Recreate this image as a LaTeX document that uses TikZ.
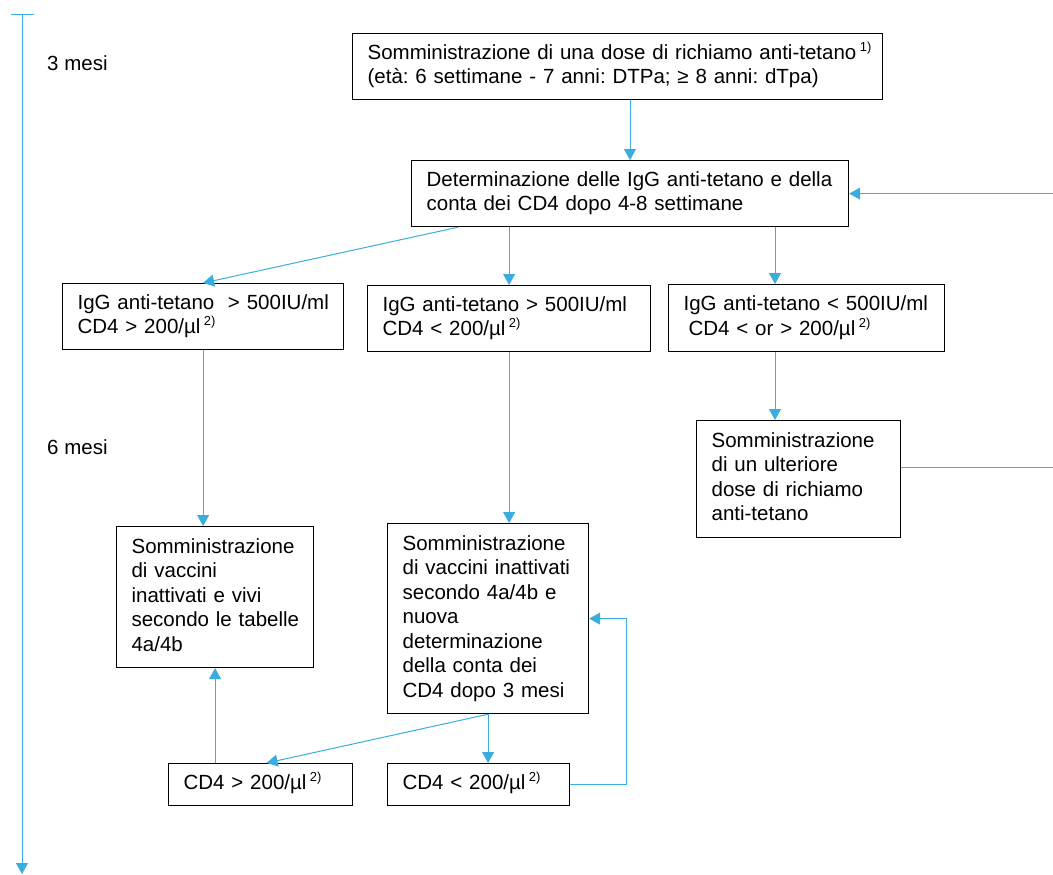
\documentclass[tikz,border=0pt]{standalone}
\usepackage{fontspec}
\setmainfont{Liberation Sans}
\usetikzlibrary{arrows.meta}
\definecolor{arr}{HTML}{3AACDD}
\frenchspacing
\newcommand{\fn}[1]{\,{\fontsize{13}{13}\selectfont\raisebox{8pt}{#1}}}
\newcommand{\lines}[1]{\begin{tabular}{@{}l@{}}#1\end{tabular}}
\begin{document}
\begin{tikzpicture}[x=1pt,y=-1pt,
  box/.style={draw=black, line width=1.2pt, anchor=north west, inner xsep=15pt, inner ysep=0pt,
    align=left, font=\fontsize{20.5}{24.5}\selectfont\frenchspacing},
  conn/.style={draw=arr, line width=1pt, -{Triangle[width=12pt,length=11pt]}},
  lab/.style={anchor=west, inner sep=0pt, font=\fontsize{20.5}{24.5}\selectfont}]
\useasboundingbox (0,0) rectangle (1053,875);
% timeline
\coordinate (t0) at (22,15);
\coordinate (t1) at (22,874);
\coordinate (tl) at (11,15);
\coordinate (tr) at (34,15);
\draw[arr, line width=1pt] (tl) -- (tr);
\draw[conn] (t0) -- (t1);
\node[lab] (m3) at (47,63) {3 mesi};
\node[lab] (m6) at (47,447) {6 mesi};
% boxes
\node[box, minimum width=530pt, minimum height=66pt, text width=500pt] (b1) at (352,33)
  {\lines{Somministrazione di una dose di richiamo anti-tetano\fn{1)}\\(età: 6 settimane - 7 anni: DTPa; ≥ 8 anni: dTpa)}};
\node[box, minimum width=437pt, minimum height=66pt, text width=407pt] (b2) at (411,160)
  {\lines{Determinazione delle IgG anti-tetano e della\\conta dei CD4 dopo 4-8 settimane}};
\node[box, minimum width=281pt, minimum height=66pt, text width=251pt] (A) at (62,283)
  {\lines{IgG anti-tetano \ > 500IU/ml\\CD4 > 200/µl\fn{2)}}};
\node[box, minimum width=283pt, minimum height=66pt, text width=253pt] (B) at (367,285)
  {\lines{IgG anti-tetano > 500IU/ml\\CD4 < 200/µl\fn{2)}}};
\node[box, minimum width=276pt, minimum height=67pt, text width=246pt] (C) at (668,284)
  {\lines{IgG anti-tetano < 500IU/ml\\\hspace{5pt}CD4 < or > 200/µl\fn{2)}}};
\node[box, minimum width=204pt, minimum height=117pt, text width=174pt] (F) at (696,420)
  {\lines{Somministrazione\\di un ulteriore\\dose di richiamo\\anti-tetano}};
\node[box, minimum width=197pt, minimum height=141pt, text width=167pt] (D) at (116,526)
  {\lines{Somministrazione\\di vaccini\\inattivati e vivi\\secondo le tabelle\\4a/4b}};
\node[box, minimum width=201pt, minimum height=190pt, text width=171pt] (E) at (387,523)
  {\lines{Somministrazione\\di vaccini inattivati\\secondo 4a/4b e\\nuova\\determinazione\\della conta dei\\CD4 dopo 3 mesi}};
\node[box, minimum width=184pt, minimum height=42pt, text width=154pt] (G) at (168,763)
  {\lines{CD4 > 200/µl\fn{2)}}};
\node[box, minimum width=182pt, minimum height=42pt, text width=152pt] (H) at (387,763)
  {\lines{CD4 < 200/µl\fn{2)}}};
% helper coordinates
\coordinate (cx) at (775,0);
\coordinate (fb) at (1062,467);
\coordinate (lp) at (626,0);
% connectors
\draw[conn] ([xshift=219pt]b2.north west |- b1.south) -- ([xshift=219pt]b2.north west);
\draw[conn] ([xshift=47pt]b2.south west) -- (A.north);
\draw[conn] (B.north |- b2.south) -- (B.north);
\draw[conn] (b2.south -| cx) -- (C.north -| cx);
\draw[conn] (C.south -| cx) -- (F.north -| cx);
\draw[conn] (A.south) -- (A.south |- D.north);
\draw[conn] (B.south) -- (B.south |- E.north);
\draw[conn] (D.south |- G.north) -- (D.south);
\draw[conn] (E.south) -- ([xshift=6pt]G.north);
\draw[conn] (E.south) -- (E.south |- H.north);
\draw[conn] (H.east) -- (H.east -| lp) |- (E.east);
\draw[conn] (F.east |- fb) -- (fb) |- (b2.east);
\end{tikzpicture}
\end{document}
